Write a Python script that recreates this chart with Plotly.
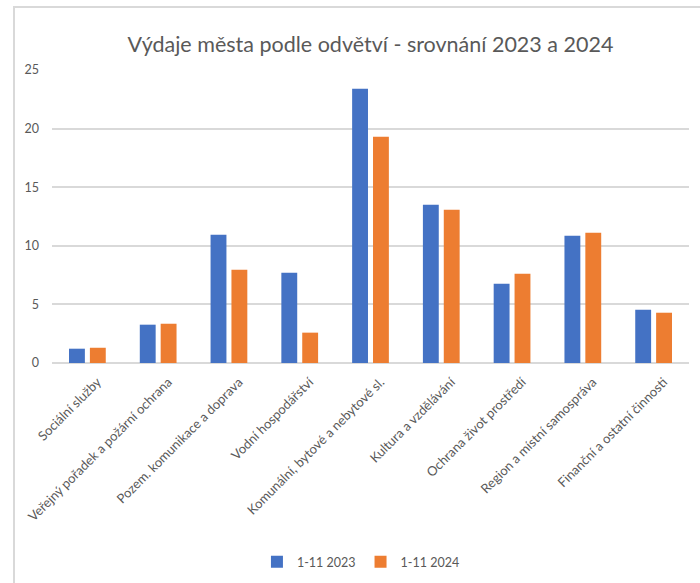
import plotly.graph_objects as go

categories = [
    "Sociální služby",
    "Veřejný pořadek a požární ochrana",
    "Pozem. komunikace a doprava",
    "Vodní hospodářství",
    "Komunální, bytové a nebytové sl.",
    "Kultura a vzdělávání",
    "Ochrana život prostředí",
    "Region a místní samospráva",
    "Finanční a ostatní činnosti",
]
values_2023 = [1.22, 3.27, 10.95, 7.71, 23.4, 13.5, 6.77, 10.86, 4.55]
values_2024 = [1.30, 3.35, 7.96, 2.59, 19.3, 13.08, 7.62, 11.12, 4.29]
series_names = ["1-11 2023", "1-11 2024"]
y_ticks = [0, 5, 10, 15, 20, 25]

FONT = "Lato"
GRAY = "#595959"

fig = go.Figure()
fig.add_trace(go.Bar(x=categories, y=values_2023, name=series_names[0],
                     marker=dict(color="#4472C4", line=dict(width=0))))
fig.add_trace(go.Bar(x=categories, y=values_2024, name=series_names[1],
                     marker=dict(color="#ED7D31", line=dict(width=0))))

fig.update_layout(
    width=700, height=583,
    margin=dict(l=52, r=11, t=70, b=220, autoexpand=False),
    paper_bgcolor="white", plot_bgcolor="white",
    barmode="group", bargap=0.41, bargroupgap=0.24,
    title=dict(text="Výdaje města podle odvětví - srovnání 2023 a 2024",
               x=0.5, xref="paper", xanchor="center",
               y=1 - 44 / 583, yref="container", yanchor="middle",
               font=dict(family=FONT, size=21.5, color=GRAY)),
    font=dict(family=FONT, color=GRAY, size=13),
    legend=dict(orientation="h", x=0.485, xanchor="center", y=-0.68, yanchor="middle",
                xref="paper", yref="paper",
                font=dict(family=FONT, size=12.5, color=GRAY),
                itemwidth=30, traceorder="normal"),
    xaxis=dict(tickangle=-45, showgrid=False, showline=False, ticks="",
               automargin=False, ticklabelstandoff=8, ticklabelshift=10,
               tickfont=dict(family=FONT, size=13, color=GRAY), fixedrange=True),
    yaxis=dict(range=[0, 25], tickvals=y_ticks, showgrid=True, gridcolor="#D9D9D9",
               gridwidth=1.5, zeroline=True, zerolinecolor="#D9D9D9", zerolinewidth=1.5,
               showline=False, ticks="", ticklabelstandoff=12, automargin=False,
               tickfont=dict(family=FONT, size=12.5, color=GRAY), fixedrange=True),
)

# chart-area border (left and top visible)
fig.add_shape(type="rect", xref="paper", yref="paper",
              x0=(14 - 52) / 637, x1=1.05, y0=-1.0, y1=(363 - 7) / 293,
              line=dict(color="#D9D9D9", width=2), fillcolor="rgba(0,0,0,0)", layer="below")

fig.write_html("out.html", config={"displayModeBar": False},
               post_script="document.body.style.margin='0';document.body.style.overflow='hidden';")
